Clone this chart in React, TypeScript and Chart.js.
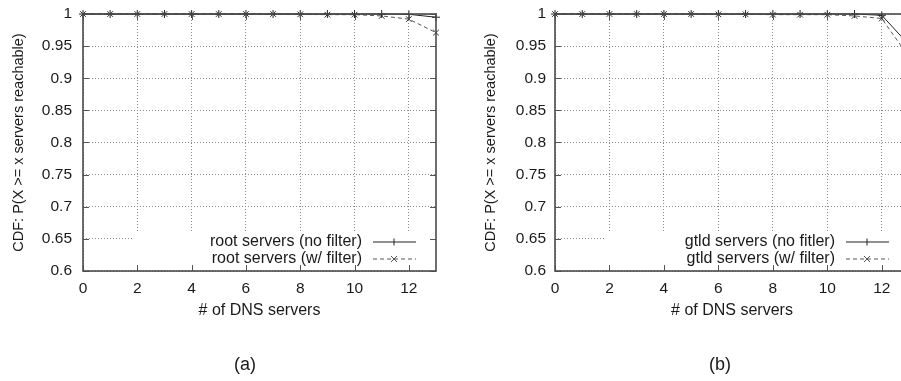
import React, { useEffect, useRef } from "react";
import { Chart, registerables } from "chart.js";

Chart.register(...registerables);

const FONT = '"Liberation Sans", Arial, Helvetica, sans-serif';

// x: number of DNS servers
const serverCounts = [0, 1, 2, 3, 4, 5, 6, 7, 8, 9, 10, 11, 12, 13];
// panel (a)
const rootNoFilter = [1, 1, 1, 1, 1, 1, 1, 1, 1, 1, 1, 1, 0.9995, 0.995];
const rootWithFilter = [1, 1, 1, 1, 1, 1, 1, 1, 0.9995, 0.999, 0.999, 0.997, 0.992, 0.971];
// panel (b)
const gtldNoFilter = [1, 1, 1, 1, 1, 1, 1, 1, 1, 1, 1, 1, 0.998, 0.952];
const gtldWithFilter = [1, 1, 1, 1, 1, 1, 0.9995, 0.9995, 0.999, 0.999, 0.999, 0.997, 0.993, 0.933];

const labelsA = ["root servers (no filter)", "root servers (w/ filter)"];
const labelsB = ["gtld servers (no fitler)", "gtld servers (w/ filter)"];

const xTickValues = [0, 2, 4, 6, 8, 10, 12];
const yTickValues = [0.6, 0.65, 0.7, 0.75, 0.8, 0.85, 0.9, 0.95, 1];

const gnuPlugin = {
  id: "gnu",
  beforeDatasetsDraw(chart: any) {
    const o = chart.options.plugins.gnu;
    const { ctx, chartArea: ca } = chart;
    // opaque key box
    ctx.save();
    ctx.fillStyle = "#fff";
    ctx.fillRect(ca.left + 51, 233, ca.right - ca.left - 51, ca.bottom - 233);
    ctx.restore();
    // key entries
    ctx.save();
    ctx.font = `16px ${FONT}`;
    ctx.fillStyle = "#1a1a1a";
    ctx.textAlign = "right";
    ctx.textBaseline = "middle";
    const rows = [242, 259];
    o.labels.forEach((t: string, i: number) => {
      const ry = rows[i];
      ctx.fillText(t, ca.right - 74, ry);
      const x0 = ca.right - 63, x1 = ca.right - 20, xm = ca.right - 42;
      ctx.beginPath();
      ctx.lineWidth = 1;
      if (i === 0) {
        ctx.strokeStyle = "#222";
        ctx.setLineDash([]);
      } else {
        ctx.strokeStyle = "#555";
        ctx.setLineDash([4, 3]);
      }
      ctx.moveTo(x0, ry);
      ctx.lineTo(x1, ry);
      ctx.stroke();
      ctx.setLineDash([]);
      ctx.beginPath();
      if (i === 0) {
        ctx.moveTo(xm, ry - 3.5);
        ctx.lineTo(xm, ry + 3.5);
      } else {
        ctx.moveTo(xm - 3, ry - 3);
        ctx.lineTo(xm + 3, ry + 3);
        ctx.moveTo(xm - 3, ry + 3);
        ctx.lineTo(xm + 3, ry - 3);
      }
      ctx.stroke();
    });
    ctx.restore();
  },
  afterDraw(chart: any) {
    const o = chart.options.plugins.gnu;
    const { ctx, chartArea: ca } = chart;
    const x = chart.scales.x;
    const y = chart.scales.y;
    ctx.save();
    ctx.strokeStyle = "#555";
    ctx.lineWidth = 1;
    ctx.beginPath();
    xTickValues.forEach((v) => {
      const px = Math.round(x.getPixelForValue(v)) + 0.5;
      ctx.moveTo(px, ca.bottom);
      ctx.lineTo(px, ca.bottom - 6);
      ctx.moveTo(px, ca.top);
      ctx.lineTo(px, ca.top + 6);
    });
    yTickValues.forEach((v) => {
      const py = Math.round(y.getPixelForValue(v)) + 0.5;
      ctx.moveTo(ca.left, py);
      ctx.lineTo(ca.left + 6, py);
      ctx.moveTo(ca.right, py);
      ctx.lineTo(ca.right - 6, py);
    });
    ctx.stroke();
    ctx.lineWidth = 1.6;
    ctx.strokeStyle = "#4a4a4a";
    ctx.strokeRect(ca.left, ca.top, ca.right - ca.left, ca.bottom - ca.top);
    // caption
    ctx.font = `18px ${FONT}`;
    ctx.fillStyle = "#1a1a1a";
    ctx.textAlign = "center";
    ctx.textBaseline = "middle";
    ctx.fillText(o.caption, o.captionX, 365);
    ctx.restore();
  },
};

function makeConfig(noF: number[], withF: number[], labels: string[], caption: string, captionX: number, yWidth: number, rightPad: number, yTitlePad: number, yTickPad: number) {
  const pts = (arr: number[]) => serverCounts.map((c, i) => ({ x: c, y: arr[i] }));
  return {
    type: "line",
    data: {
      datasets: [
        {
          label: labels[0],
          data: pts(noF),
          borderColor: "#222",
          borderWidth: 1,
          pointStyle: "cross",
          pointRadius: 4,
          pointBorderColor: "#222",
          pointBorderWidth: 1,
          pointBackgroundColor: "#222",
          clip: false,
        },
        {
          label: labels[1],
          data: pts(withF),
          borderColor: "#555",
          borderWidth: 1,
          borderDash: [4, 3],
          pointStyle: "crossRot",
          pointRadius: 4,
          pointBorderColor: "#333",
          pointBorderWidth: 1,
          pointBackgroundColor: "#333",
          clip: false,
        },
      ],
    },
    options: {
      responsive: false,
      animation: false,
      devicePixelRatio: 1,
      layout: { padding: { left: 0, top: 14, right: rightPad, bottom: 0 } },
      plugins: {
        legend: { display: false },
        tooltip: { enabled: false },
        gnu: { labels, caption, captionX },
      },
      scales: {
        x: {
          type: "linear",
          min: 0,
          max: 13,
          afterFit: (s: any) => {
            s.height = 110;
            s.paddingLeft = 0;
            s.paddingRight = 0;
          },
          ticks: {
            stepSize: 2,
            includeBounds: false,
            padding: 8,
            color: "#1a1a1a",
            font: { family: FONT, size: 15.5 },
            maxRotation: 0,
          },
          grid: {
            color: "#8a8a8a",
            lineWidth: 1,
            drawTicks: false,
          },
          border: { display: false, dash: [1, 2] },
          title: {
            display: true,
            text: "# of DNS servers",
            color: "#1a1a1a",
            font: { family: FONT, size: 16 },
            padding: { top: 0, bottom: 61 },
          },
        },
        y: {
          type: "linear",
          min: 0.6,
          max: 1,
          afterFit: (s: any) => {
            s.width = yWidth;
            s.paddingTop = 0;
            s.paddingBottom = 0;
          },
          ticks: {
            stepSize: 0.05,
            padding: yTickPad,
            color: "#1a1a1a",
            font: { family: FONT, size: 15.5 },
            callback: (v: number) => String(Number(v.toFixed(2))),
          },
          grid: {
            color: "#8a8a8a",
            lineWidth: 1,
            drawTicks: false,
          },
          border: { display: false, dash: [1, 2] },
          title: {
            display: true,
            text: "CDF: P(X >= x servers reachable)",
            color: "#1a1a1a",
            font: { family: FONT, size: 14.5 },
            padding: { top: yTitlePad, bottom: 0 },
          },
        },
      },
    },
  } as any;
}

function Panel(props: { cfg: any; left: number; width: number }) {
  const ref = useRef<HTMLCanvasElement | null>(null);
  useEffect(() => {
    if (!ref.current) return;
    const chart = new Chart(ref.current, { ...props.cfg, plugins: [gnuPlugin] });
    return () => chart.destroy();
  }, []);
  return (
    <canvas
      ref={ref}
      width={props.width}
      height={381}
      style={{ position: "absolute", left: props.left, top: 0, width: props.width, height: 381 }}
    />
  );
}

export default function App() {
  const cfgA = makeConfig(rootNoFilter, rootWithFilter, labelsA, "(a)", 245, 83, 14, 10, 11);
  const cfgB = makeConfig(gtldNoFilter, gtldWithFilter, labelsB, "(b)", 270, 105, 11, 32, 9);
  return (
    <div
      style={{
        position: "fixed",
        left: 0,
        top: 0,
        width: 901,
        height: 381,
        overflow: "hidden",
        background: "#fff",
      }}
    >
      <Panel cfg={cfgA} left={0} width={450} />
      <Panel cfg={cfgB} left={450} width={470} />
    </div>
  );
}
